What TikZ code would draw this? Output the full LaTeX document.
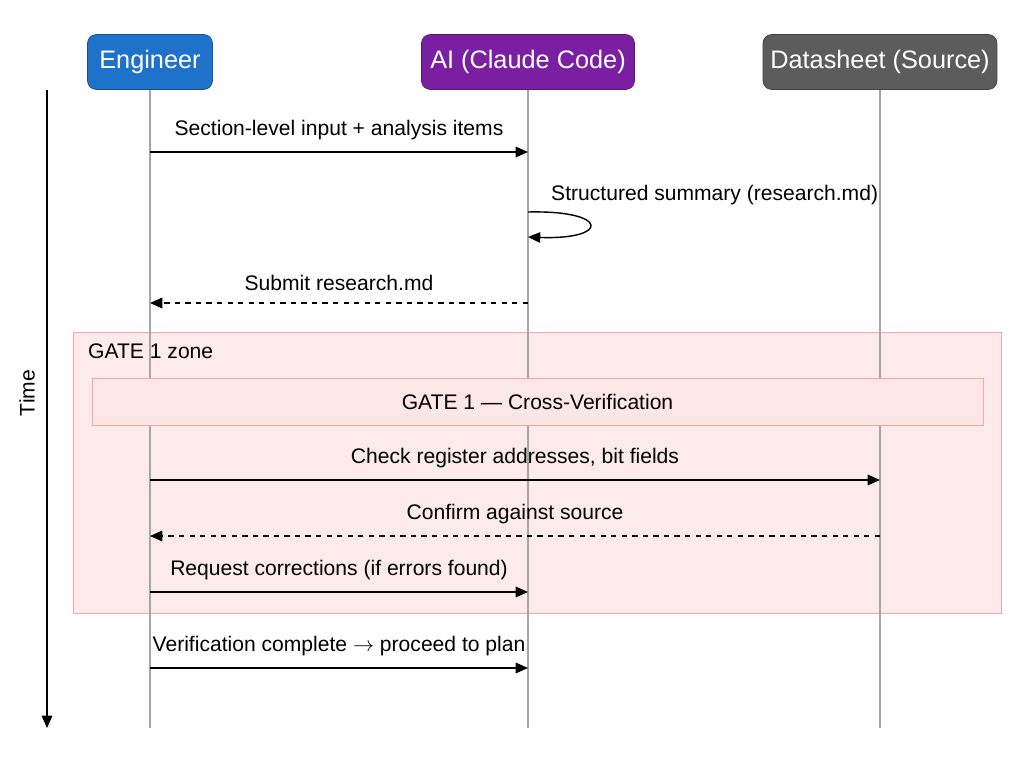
\documentclass[tikz,border=0pt]{standalone}
\usepackage{fontspec}
\setmainfont{Liberation Sans}
\usetikzlibrary{arrows.meta}
\definecolor{engblue}{HTML}{1F72C9}
\definecolor{aipurple}{HTML}{7B1FA2}
\definecolor{srcgray}{HTML}{5C5C5C}
\definecolor{gatefill}{HTML}{FDE6E6}
\definecolor{gateline}{HTML}{F0A8A8}
\tikzset{
  actor/.style={draw=#1!70!black, fill=#1, text=white, rounded corners=5pt,
    minimum height=1.1cm, font=\Large},
  msg/.style={-{Triangle[length=7pt,width=6pt]}, line width=0.8pt},
  reply/.style={msg, dashed},
  lbl/.style={font=\large, above, yshift=3pt},
}
\begin{document}
\begin{tikzpicture}[x=0.02cm,y=-0.02cm]
\useasboundingbox (0,0) rectangle (1024,765);

% participants
\node[actor=engblue, minimum width=2.5cm] (eng) at (150,62) {Engineer};
\node[actor=aipurple, minimum width=4.26cm] (ai) at (528,62) {AI (Claude Code)};
\node[actor=srcgray, minimum width=4.68cm] (src) at (880,62) {Datasheet (Source)};

% gate zone (under the lifelines)
\draw[gateline, fill=gatefill, fill opacity=0.8] (73,332) rectangle (1001,613);
\node[anchor=west, font=\large] (zone) at (82,351) {GATE 1 zone};

% lifelines
\coordinate (engEnd) at (150,728);
\coordinate (aiEnd) at (528,728);
\coordinate (srcEnd) at (880,728);
\draw[gray!70, line width=0.8pt] (eng.south) -- (engEnd);
\draw[gray!70, line width=0.8pt] (ai.south) -- (aiEnd);
\draw[gray!70, line width=0.8pt] (src.south) -- (srcEnd);

\node[draw=gateline, fill=gatefill, minimum width=17.82cm, minimum height=0.94cm,
  font=\large] (gate) at (537.5,401.5) {GATE 1 --- Cross-Verification};

% time axis
\coordinate (t0) at (47,90);
\coordinate (t1) at (47,728);
\draw[msg] (t0) -- (t1);
\node[rotate=90, font=\large] (time) at (27,393) {Time};

% messages
\coordinate (e1) at (150,152); \coordinate (a1) at (528,152);
\draw[msg] (e1) -- (a1) node[midway, lbl] {Section-level input + analysis items};

\coordinate (a2) at (528,212); \coordinate (a2b) at (528,237);
\draw[msg] (a2) .. controls (610,210) and (610,240) .. (a2b);
\node[anchor=west, font=\large] (self) at (545,195) {Structured summary (research.md)};

\coordinate (a3) at (528,303); \coordinate (e3) at (150,303);
\draw[reply] (a3) -- (e3) node[midway, lbl] {Submit research.md};

\coordinate (e4) at (150,480); \coordinate (s4) at (880,480);
\draw[msg] (e4) -- (s4) node[midway, lbl] {Check register addresses, bit fields};

\coordinate (s5) at (880,536); \coordinate (e5) at (150,536);
\draw[reply] (s5) -- (e5) node[midway, lbl] {Confirm against source};

\coordinate (e6) at (150,592); \coordinate (a6) at (528,592);
\draw[msg] (e6) -- (a6) node[midway, lbl] {Request corrections (if errors found)};

\coordinate (e7) at (150,668); \coordinate (a7) at (528,668);
\draw[msg] (e7) -- (a7) node[midway, lbl] {Verification complete $\rightarrow$ proceed to plan};
\end{tikzpicture}
\end{document}
